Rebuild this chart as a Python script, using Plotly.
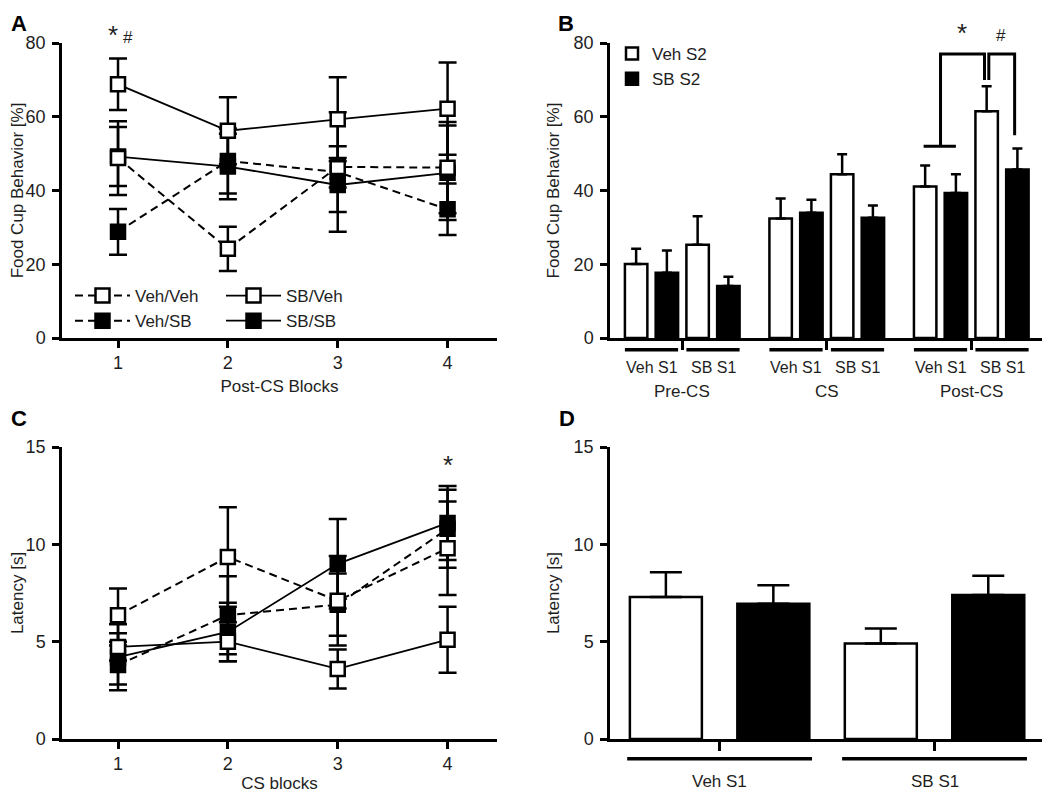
import plotly.graph_objects as go

W, H = 1050, 793
PAGE = 8  # default body margin of the html page

# ---- panel A: food cup behaviour [%] over post-CS blocks ----
blocks = [1, 2, 3, 4]
a_veh_veh = [48.8, 24.2, 46.4, 46.2]
a_veh_veh_sem = [10.0, 6.0, 5.6, 12.4]
a_sb_veh = [68.8, 56.2, 59.3, 62.2]
a_sb_veh_sem = [7.0, 9.1, 11.4, 12.5]
a_veh_sb = [28.8, 48.0, 45.0, 34.9]
a_veh_sb_sem = [6.2, 8.8, 16.2, 7.0]
a_sb_sb = [49.2, 46.5, 41.5, 44.8]
a_sb_sb_sem = [8.0, 8.9, 7.3, 12.8]

# ---- panel C: latency [s] over CS blocks ----
c_veh_veh = [6.36, 9.35, 7.1, 9.8]
c_veh_veh_sem = [1.37, 2.55, 2.3, 2.4]
c_sb_veh = [4.73, 5.0, 3.6, 5.1]
c_sb_veh_sem = [0.7, 1.0, 1.0, 1.7]
c_veh_sb = [3.8, 6.36, 6.9, 10.8]
c_veh_sb_sem = [1.0, 2.0, 1.6, 2.0]
c_sb_sb = [4.2, 5.5, 9.0, 11.1]
c_sb_sb_sem = [1.7, 1.5, 2.3, 1.9]

# ---- panel B: food cup behaviour by period, S1 treatment, S2 treatment ----
periods = ["Pre-CS", "CS", "Post-CS"]
s1_groups = ["Veh S1", "SB S1"]
b_veh_s2 = [20.1, 25.3, 32.4, 44.4, 41.1, 61.5]
b_veh_s2_sem = [4.1, 7.7, 5.4, 5.4, 5.7, 6.8]
b_sb_s2 = [17.7, 14.1, 34.0, 32.6, 39.3, 45.7]
b_sb_s2_sem = [6.0, 2.5, 3.5, 3.3, 5.1, 5.7]

# ---- panel D: latency by S1 treatment ----
d_veh_s2 = [7.3, 4.9]
d_veh_s2_sem = [1.27, 0.77]
d_sb_s2 = [6.95, 7.4]
d_sb_s2_sem = [0.95, 0.98]

FONT = "Liberation Sans, Arial, sans-serif"
TXT = "#1e1e1e"

FW, FH = W - PAGE, H - PAGE

fig = go.Figure()


def px_x(p):
    return (p - PAGE) / FW


def px_y(p):
    return 1 - (p - PAGE) / FH


styles = {
    "Veh/Veh": ("white", "dash"),
    "SB/Veh": ("white", "solid"),
    "Veh/SB": ("black", "dash"),
    "SB/SB": ("black", "solid"),
}
legend_of = {"Veh/Veh": "legend", "Veh/SB": "legend", "SB/Veh": "legend2", "SB/SB": "legend2"}

a_series = {"Veh/Veh": (a_veh_veh, a_veh_veh_sem), "SB/Veh": (a_sb_veh, a_sb_veh_sem),
            "Veh/SB": (a_veh_sb, a_veh_sb_sem), "SB/SB": (a_sb_sb, a_sb_sb_sem)}
c_series = {"Veh/Veh": (c_veh_veh, c_veh_veh_sem), "SB/Veh": (c_sb_veh, c_sb_veh_sem),
            "Veh/SB": (c_veh_sb, c_veh_sb_sem), "SB/SB": (c_sb_sb, c_sb_sb_sem)}

draw_order = ["SB/SB", "Veh/SB", "Veh/Veh", "SB/Veh"]
for series, xa, ya, show in [(a_series, "x", "y", True), (c_series, "x3", "y3", False)]:
    for name in draw_order:
        fill, dash = styles[name]
        vals, sem = series[name]
        fig.add_trace(go.Scatter(
            x=blocks, y=vals, name=name, xaxis=xa, yaxis=ya,
            mode="lines+markers", cliponaxis=False,
            line=dict(color="black", width=2 if dash == "dash" else 1.8,
                      dash="8px,5px" if dash == "dash" else "solid"),
            marker=dict(symbol="square", size=14, color=fill, line=dict(color="black", width=2.5)),
            error_y=dict(type="data", array=sem, color="black", thickness=2.5, width=9),
            showlegend=show, legend=legend_of[name],
        ))

# bar positions for panel B: 4 bars per period, extra gap between periods
gap = 4.7
bw = 0.73
veh_x, sb_x = [], []
for pi in range(len(periods)):
    for si in range(len(s1_groups)):
        base = pi * gap + si * 2
        veh_x.append(base)
        sb_x.append(base + 1)

fig.add_trace(go.Bar(x=veh_x, y=b_veh_s2, name="Veh S2", width=bw, xaxis="x2", yaxis="y2",
                     marker=dict(color="white", line=dict(color="black", width=2.5)),
                     error_y=dict(type="data", array=b_veh_s2_sem, arrayminus=[0] * 6, symmetric=False,
                                  color="black", thickness=2.5, width=5),
                     legend="legend3"))
fig.add_trace(go.Bar(x=sb_x, y=b_sb_s2, name="SB S2", width=bw, xaxis="x2", yaxis="y2",
                     marker=dict(color="black", line=dict(color="black", width=2.5)),
                     error_y=dict(type="data", array=b_sb_s2_sem, arrayminus=[0] * 6, symmetric=False,
                                  color="black", thickness=2.5, width=5),
                     legend="legend3"))

# panel D bars
d_veh_x = [i * 2 for i in range(len(s1_groups))]
d_sb_x = [i * 2 + 1 for i in range(len(s1_groups))]
fig.add_trace(go.Bar(x=d_veh_x, y=d_veh_s2, width=0.67, xaxis="x4", yaxis="y4", showlegend=False,
                     marker=dict(color="white", line=dict(color="black", width=2.5)),
                     error_y=dict(type="data", array=d_veh_s2_sem, arrayminus=[0, 0], symmetric=False,
                                  color="black", thickness=2.5, width=16)))
fig.add_trace(go.Bar(x=d_sb_x, y=d_sb_s2, width=0.67, xaxis="x4", yaxis="y4", showlegend=False,
                     marker=dict(color="black", line=dict(color="black", width=2.5)),
                     error_y=dict(type="data", array=d_sb_s2_sem, arrayminus=[0, 0], symmetric=False,
                                  color="black", thickness=2.5, width=16)))

axis_common = dict(showline=True, linecolor="black", linewidth=2.5, ticks="outside", tickwidth=2.5,
                   ticklen=7, tickcolor="black", showgrid=False, zeroline=False, automargin=False,
                   tickfont=dict(family=FONT, size=18, color=TXT))
y_extra = dict(ticklabelstandoff=3)
title_font = dict(family=FONT, size=17, color=TXT)

left_dom = [px_x(62), px_x(497)]
right_dom = [px_x(610), px_x(1042)]
top_dom = [px_y(338), px_y(43)]
bot_dom = [px_y(739), px_y(447)]

b_ticks = [pi * gap + 1.5 for pi in range(len(periods))]
d_ticks = [0.5, 2.5]

fig.update_layout(
    width=FW, height=FH, margin=dict(l=0, r=0, t=0, b=0, autoexpand=False),
    paper_bgcolor="white", plot_bgcolor="white", barmode="overlay",
    font=dict(family=FONT, size=17, color=TXT),
    xaxis=dict(axis_common, domain=left_dom, range=[0.49, 4.45], tickvals=blocks, anchor="y",
               title=dict(text="Post-CS Blocks", font=title_font, standoff=8)),
    yaxis=dict(axis_common, **y_extra, domain=top_dom, range=[0, 80], tickvals=[0, 20, 40, 60, 80],
               anchor="x", title=dict(text="Food Cup Behavior [%]", font=title_font, standoff=12)),
    xaxis2=dict(axis_common, domain=right_dom, range=[-0.85, 13.2], tickvals=b_ticks,
                ticktext=["", "", ""], ticklen=9, anchor="y2"),
    yaxis2=dict(axis_common, **y_extra, domain=top_dom, range=[0, 80], tickvals=[0, 20, 40, 60, 80],
                anchor="x2", title=dict(text="Food Cup Behavior [%]", font=title_font, standoff=10)),
    xaxis3=dict(axis_common, domain=left_dom, range=[0.49, 4.45], tickvals=blocks, anchor="y3",
                title=dict(text="CS blocks", font=title_font, standoff=8)),
    yaxis3=dict(axis_common, **y_extra, domain=bot_dom, range=[0, 15], tickvals=[0, 5, 10, 15],
                anchor="x3", title=dict(text="Latency [s]", font=title_font, standoff=12)),
    xaxis4=dict(axis_common, domain=right_dom, range=[-0.52, 3.5], tickvals=d_ticks,
                ticktext=["", ""], ticklen=9, anchor="y4"),
    yaxis4=dict(axis_common, **y_extra, domain=bot_dom, range=[0, 15], tickvals=[0, 5, 10, 15],
                anchor="x4", title=dict(text="Latency [s]", font=title_font, standoff=10)),
    legend=dict(x=px_x(70), y=px_y(278), xanchor="left", yanchor="top", bgcolor="rgba(0,0,0,0)",
                font=dict(family=FONT, size=17, color=TXT), itemwidth=55, tracegroupgap=0,
                traceorder="reversed"),
    legend2=dict(x=px_x(221), y=px_y(278), xanchor="left", yanchor="top", bgcolor="rgba(0,0,0,0)",
                 font=dict(family=FONT, size=17, color=TXT), itemwidth=55, tracegroupgap=0,
                 traceorder="reversed"),
    legend3=dict(x=px_x(612), y=px_y(36), xanchor="left", yanchor="top", bgcolor="rgba(0,0,0,0)",
                 font=dict(family=FONT, size=17, color=TXT), traceorder="normal"),
)

shapes = []
annotations = []

# group underlines and labels for panel B
for pi, period in enumerate(periods):
    for si, grp in enumerate(s1_groups):
        x0 = pi * gap + si * 2 - bw / 2
        x1 = x0 + 1 + bw
        shapes.append(dict(type="line", xref="x2", yref="y2 domain", x0=x0, x1=x1, y0=-0.04, y1=-0.04,
                           line=dict(color="black", width=3.5)))
        annotations.append(dict(xref="x2", yref="y2 domain", x=(x0 + x1) / 2, y=-0.1, text=grp,
                                xanchor="center", yanchor="middle", showarrow=False,
                                font=dict(family=FONT, size=16, color=TXT)))
    annotations.append(dict(xref="x2", yref="y2 domain", x=pi * gap + 1.5, y=-0.18, text=period,
                            xanchor="center", yanchor="middle", showarrow=False,
                            font=dict(family=FONT, size=17, color=TXT)))

# group underlines and labels for panel D
for si, grp in enumerate(s1_groups):
    x0 = si * 2 - 0.36
    x1 = si * 2 + 1.36
    shapes.append(dict(type="line", xref="x4", yref="y4 domain", x0=x0, x1=x1, y0=-0.068, y1=-0.068,
                       line=dict(color="black", width=3.5)))
    annotations.append(dict(xref="x4", yref="y4 domain", x=(x0 + x1) / 2, y=-0.147, text=grp,
                            xanchor="center", yanchor="middle", showarrow=False,
                            font=dict(family=FONT, size=17, color=TXT)))

# significance brackets in panel B
sig_line = dict(color="black", width=3)
shapes += [
    dict(type="line", xref="x2", yref="y2", x0=9.35, x1=10.4, y0=52, y1=52, line=sig_line),
    dict(type="path", xref="x2", yref="y2", path="M 9.9 52 L 9.9 77 L 11.33 77 L 11.33 70", line=sig_line),
    dict(type="path", xref="x2", yref="y2", path="M 11.47 70 L 11.47 77 L 12.31 77 L 12.31 55", line=sig_line),
]
annotations += [
    dict(xref="x2", yref="y2", x=10.6, y=78, text="*", showarrow=False, yanchor="bottom",
         font=dict(family=FONT, size=26, color=TXT)),
    dict(xref="x2", yref="y2", x=11.86, y=79, text="#", showarrow=False, yanchor="bottom",
         font=dict(family=FONT, size=17, color=TXT)),
    dict(xref="x", yref="y", x=0.95, y=77.5, text="*", showarrow=False, yanchor="bottom",
         font=dict(family=FONT, size=26, color=TXT)),
    dict(xref="x", yref="y", x=1.09, y=78.5, text="#", showarrow=False, yanchor="bottom",
         font=dict(family=FONT, size=17, color=TXT)),
    dict(xref="x3", yref="y3", x=4, y=13.2, text="*", showarrow=False, yanchor="bottom",
         font=dict(family=FONT, size=26, color=TXT)),
]

# panel letters
for letter, lx, ly in [("A", 19, 24), ("B", 566, 24), ("C", 19, 418), ("D", 567, 418)]:
    annotations.append(dict(xref="paper", yref="paper", x=px_x(lx), y=px_y(ly), text="<b>%s</b>" % letter,
                            xanchor="center", yanchor="middle", showarrow=False,
                            font=dict(family=FONT, size=22, color="black")))

fig.update_layout(shapes=shapes, annotations=annotations)

fig.write_html("out.html")
